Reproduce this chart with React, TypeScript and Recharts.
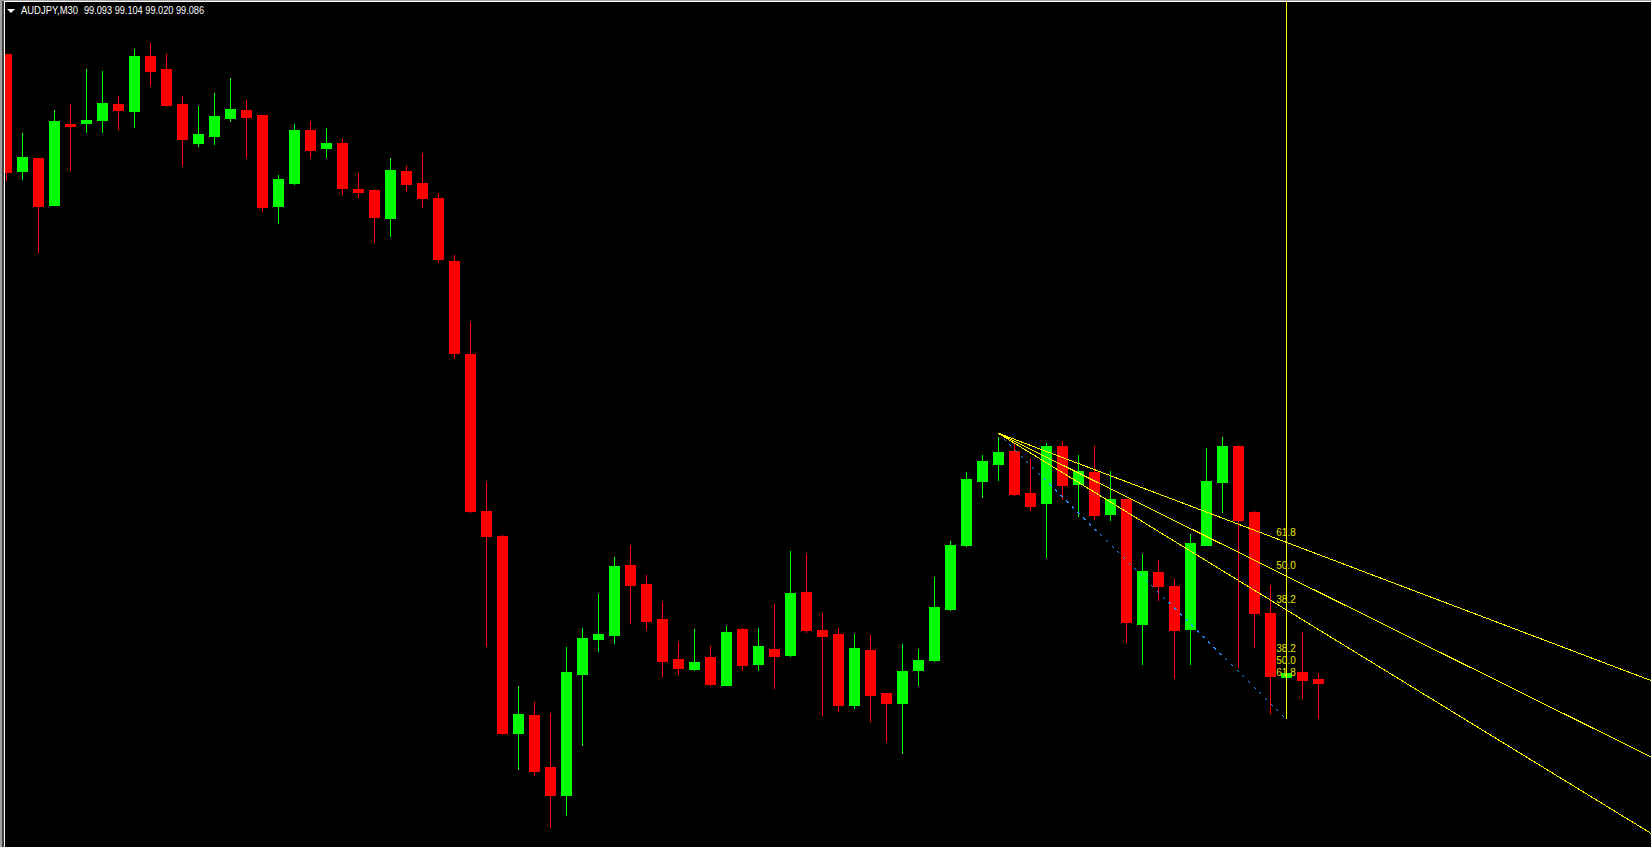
import React from "react";
import {
    ComposedChart,
    Bar,
    XAxis,
    YAxis,
    ReferenceLine,
    ReferenceDot,
} from "recharts";

const symbol = "AUDJPY,M30";
const lastQuote = ["99.093", "99.104", "99.020", "99.086"];

// M30 bars (oldest first)
const opens = [
    100.268, 100.048, 100.072, 99.984, 100.136, 100.138, 100.143, 100.174, 100.16, 100.264,
    100.239, 100.174, 100.1, 100.113, 100.147, 100.162, 100.153, 99.982, 100.025, 100.125,
    100.09, 100.1, 100.014, 100.012, 99.96, 100.048, 100.025, 99.997, 99.878, 99.703,
    99.408, 99.362, 98.991, 99.025, 98.927, 98.875, 99.102, 99.168, 99.176, 99.307,
    99.271, 99.206, 99.13, 99.112, 99.134, 99.082, 99.187, 99.121, 99.149, 99.138,
    99.256, 99.185, 99.177, 99.044, 99.147, 99.066, 99.048, 99.11, 99.129, 99.224,
    99.345, 99.465, 99.497, 99.521, 99.442, 99.424, 99.531, 99.459, 99.482, 99.403,
    99.431, 99.196, 99.294, 99.268, 99.187, 99.345, 99.463, 99.531, 99.407, 99.217,
    99.097, 99.106, 99.093,
];
const highs = [
    100.268, 100.119, 100.072, 100.162, 100.174, 100.239, 100.236, 100.189, 100.277, 100.288,
    100.268, 100.189, 100.17, 100.194, 100.222, 100.181, 100.153, 100.04, 100.136, 100.142,
    100.128, 100.108, 100.044, 100.014, 100.072, 100.057, 100.081, 100.006, 99.89, 99.764,
    99.463, 99.363, 99.079, 99.05, 99.029, 99.153, 99.189, 99.253, 99.322, 99.345,
    99.288, 99.237, 99.162, 99.187, 99.155, 99.192, 99.188, 99.189, 99.234, 99.333,
    99.328, 99.217, 99.189, 99.177, 99.175, 99.066, 99.159, 99.149, 99.285, 99.352,
    99.482, 99.514, 99.548, 99.535, 99.506, 99.536, 99.54, 99.514, 99.531, 99.484,
    99.431, 99.328, 99.316, 99.281, 99.365, 99.527, 99.548, 99.532, 99.408, 99.269,
    99.106, 99.181, 99.104,
];
const lows = [
    100.031, 100.033, 99.896, 99.983, 100.05, 100.121, 100.121, 100.127, 100.13, 100.209,
    100.17, 100.059, 100.095, 100.098, 100.142, 100.073, 99.972, 99.949, 100.023, 100.073,
    100.073, 100.005, 99.998, 99.915, 99.925, 100.01, 99.979, 99.877, 99.696, 99.406,
    99.154, 98.99, 98.924, 98.912, 98.815, 98.837, 98.969, 99.145, 99.16, 99.198,
    99.187, 99.098, 99.102, 99.11, 99.082, 99.081, 99.11, 99.11, 99.076, 99.136,
    99.181, 99.025, 99.033, 99.038, 99.014, 98.976, 98.954, 99.082, 99.127, 99.223,
    99.343, 99.435, 99.467, 99.439, 99.41, 99.322, 99.431, 99.399, 99.394, 99.392,
    99.162, 99.121, 99.241, 99.095, 99.121, 99.344, 99.407, 99.115, 99.153, 99.029,
    99.096, 99.057, 99.02,
];
const closes = [
    100.046, 100.074, 99.982, 100.142, 100.132, 100.143, 100.175, 100.162, 100.264, 100.236,
    100.172, 100.108, 100.117, 100.151, 100.164, 100.149, 99.98, 100.033, 100.125, 100.088,
    100.1, 100.015, 100.009, 99.961, 100.049, 100.024, 99.997, 99.882, 99.706, 99.408,
    99.362, 98.991, 99.027, 98.92, 98.875, 99.106, 99.17, 99.177, 99.305, 99.269,
    99.202, 99.127, 99.113, 99.125, 99.083, 99.181, 99.119, 99.155, 99.136, 99.254,
    99.185, 99.174, 99.044, 99.151, 99.063, 99.048, 99.108, 99.129, 99.228, 99.345,
    99.469, 99.503, 99.519, 99.441, 99.418, 99.531, 99.457, 99.484, 99.401, 99.431,
    99.2, 99.296, 99.268, 99.185, 99.348, 99.465, 99.531, 99.392, 99.217, 99.098,
    99.104, 99.091, 99.086,
];

// empty slots to the right of the last bar (chart shift)
const emptySlots = 22;

// fibo fan: anchor points (bar index, price) and levels
const fanStart = { bar: 62, price: 99.555 };
const fanEnd = { bar: 80, price: 99.018 };
const fanLevels = [38.2, 50.0, 61.8];
const fanLabels = [
    { text: "61.8", price: 99.369 },
    { text: "50.0", price: 99.306 },
    { text: "38.2", price: 99.243 },
    { text: "38.2", price: 99.15 },
    { text: "50.0", price: 99.128 },
    { text: "61.8", price: 99.106 },
];

const priceMin = 98.777;
const priceMax = 100.369;

const BULL = "#00ff00";
const BEAR = "#ff0000";
const FAN = "#ffff00";
const LABEL = "#e6e600";

function Candle(props: any) {
    const { x, y, width, height, payload } = props;
    if (!payload || payload.o == null) return null;
    const { o, h, l, c } = payload;
    const k = h === l ? 0 : height / (h - l);
    const py = (p: number) => y + (h - p) * k;
    const color = c >= o ? BULL : BEAR;
    const top = Math.round(py(Math.max(o, c)));
    const bot = Math.round(py(Math.min(o, c)));
    const left = Math.round(x);
    const w = Math.round(width);
    const cx = left + Math.floor(w / 2) + 0.5;
    return (
        <g>
            <line
                x1={cx}
                x2={cx}
                y1={Math.round(y)}
                y2={Math.round(y + height) + 1}
                stroke={color}
                strokeWidth={1}
            />
            <rect x={left} y={top} width={w} height={Math.max(1, bot - top + 1)} fill={color} />
        </g>
    );
}

export default function App() {
    const data: any[] = opens.map((o, i) => ({
        i,
        o,
        h: highs[i],
        l: lows[i],
        c: closes[i],
    }));
    for (let j = 0; j < emptySlots; j++) data.push({ i: opens.length + j });

    const slots = data.length; // 105 slots of 16px
    const chartW = slots * 16;

    const rightBar = slots - 1;
    const fanLines = fanLevels.map((lv) => {
        const pAt = fanEnd.price + (lv / 100) * (fanStart.price - fanEnd.price);
        const slope = (pAt - fanStart.price) / (fanEnd.bar - fanStart.bar);
        return {
            lv,
            end: fanStart.price + slope * (rightBar - fanStart.bar),
        };
    });

    return (
        <div
            style={{
                position: "fixed",
                left: 0,
                top: 0,
                width: 1651,
                height: 847,
                overflow: "hidden",
                background: "#000",
            }}
        >
            <style>{`svg line, svg rect, svg path { shape-rendering: crispEdges; }`}</style>
            <div style={{ position: "absolute", left: -2, top: 0 }}>
                <ComposedChart
                    width={chartW}
                    height={847}
                    data={data}
                    margin={{ top: 0, right: 0, bottom: 0, left: 0 }}
                >
                    <XAxis dataKey="i" type="category" hide />
                    <YAxis type="number" domain={[priceMin, priceMax]} allowDataOverflow hide />

                    <Bar
                        dataKey={(d: any) => (d.o == null ? null : [d.l, d.h])}
                        barSize={11}
                        shape={Candle}
                        isAnimationActive={false}
                    />

                    <ReferenceLine
                        segment={[
                            { x: fanStart.bar, y: fanStart.price },
                            { x: fanEnd.bar, y: fanEnd.price },
                        ]}
                        stroke="#1e90ff"
                        strokeDasharray="3 5"
                        ifOverflow="visible"
                    />
                    <ReferenceLine
                        segment={[
                            { x: fanEnd.bar, y: priceMax },
                            { x: fanEnd.bar, y: fanEnd.price },
                        ]}
                        stroke={FAN}
                        ifOverflow="visible"
                    />
                    {fanLines.map((f) => (
                        <ReferenceLine
                            key={f.lv}
                            segment={[
                                { x: fanStart.bar, y: fanStart.price },
                                { x: rightBar, y: f.end },
                            ]}
                            stroke={FAN}
                            ifOverflow="visible"
                        />
                    ))}
                    {fanLabels.map((f, idx) => (
                        <ReferenceDot
                            key={idx}
                            x={fanEnd.bar}
                            y={f.price}
                            r={0}
                            fill="none"
                            stroke="none"
                            label={{
                                value: f.text,
                                position: "center",
                                fill: LABEL,
                                fontSize: 10,
                                fontFamily: "Liberation Sans",
                            }}
                        />
                    ))}
                </ComposedChart>
            </div>

            {/* window frame + title */}
            <svg
                width={1651}
                height={847}
                style={{ position: "absolute", left: 0, top: 0, pointerEvents: "none" }}
            >
                <rect x={0} y={0} width={2} height={847} fill="#a0a0a0" />
                <rect x={2} y={0} width={2} height={847} fill="#404040" />
                <rect x={0} y={0} width={1651} height={1} fill="#a0a0a0" />
                <rect x={4} y={1} width={1647} height={1} fill="#ffffff" />
                <rect x={4} y={1} width={1} height={846} fill="#ffffff" />
                <polygon points="7,9 15,9 11,13" fill="#ffffff" />
                <text
                    x={21}
                    y={14}
                    fill="#ffffff"
                    fontSize={11}
                    fontFamily="Liberation Sans"
                    textLength={57}
                    lengthAdjust="spacingAndGlyphs"
                >
                    {symbol}
                </text>
                <text
                    x={84}
                    y={14}
                    fill="#ffffff"
                    fontSize={11}
                    fontFamily="Liberation Sans"
                    textLength={120}
                    lengthAdjust="spacingAndGlyphs"
                >
                    {lastQuote.join(" ")}
                </text>
            </svg>
        </div>
    );
}
